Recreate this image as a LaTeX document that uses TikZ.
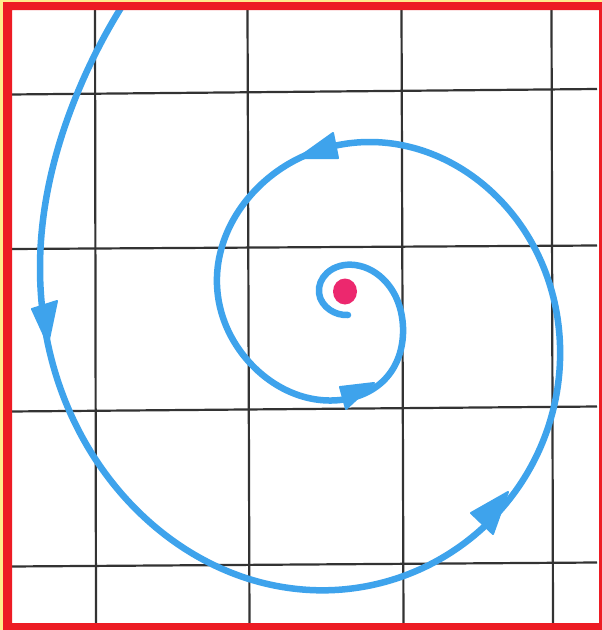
\documentclass[tikz,border=0pt]{standalone}
\usetikzlibrary{calc,shapes.geometric,hobby}
\definecolor{spiralblue}{RGB}{62,163,236}
\definecolor{dotred}{RGB}{236,40,110}
\definecolor{framered}{RGB}{237,28,36}
\definecolor{edgeyellow}{RGB}{255,236,140}
\tikzset{
  gridline/.style={draw=black!80, line width=2.2pt},
  spiralline/.style={draw=spiralblue, line width=6.5pt, line cap=round, line join=round},
  arrowhead/.style={fill=spiralblue, draw=spiralblue, line width=2pt, line join=round}
}
\begin{document}
\begin{tikzpicture}[x=1pt,y=-1pt]
\useasboundingbox (0,0) rectangle (602,630);
\fill[white] (0,0) rectangle (602,630);
% grid
\draw[gridline] (95,8) -- (96,625);
\draw[gridline] (247.5,8) -- (249.5,625);
\draw[gridline] (401.5,8) -- (403.5,625);
\draw[gridline] (551.5,8) -- (553,625);
\draw[gridline] (10,94.5) -- (597,89);
\draw[gridline] (10,249) -- (597,245.5);
\draw[gridline] (10,411.5) -- (597,406.5);
\draw[gridline] (10,566.5) -- (597,562.5);
% spiral
\draw[spiralline, use Hobby shortcut]
 (124,3) .. (77,94) .. (40,268) .. (100,466) .. (310,590) .. (487,524)
 .. (560,345) .. (493,193) .. (370,142) .. (250,196) .. (217,285)
 .. (250,363) .. (340,400) .. (387,377) .. (403,327) .. (386,282)
 .. (355,265) .. (327,273) .. (319,293) .. (330,310) .. (348,315);
% arrowheads
\filldraw[arrowhead] (32,309) -- (57,301) -- (48,344) -- cycle;
\filldraw[arrowhead] (471,513) -- (493,534) -- (508,492) -- cycle;
\filldraw[arrowhead] (333,133) -- (338,158) -- (298,158) -- cycle;
\filldraw[arrowhead] (340,387) -- (346,409) -- (374,383) -- cycle;
% centre dot
\node[fill=dotred, ellipse, inner sep=0pt, minimum width=24pt, minimum height=26pt] (centre) at (345,291.5) {};
% frame
\fill[framered, even odd rule] (3,2) rectangle (602,630) (12,10) rectangle (599,623);
\fill[edgeyellow] (0,0) rectangle (3,630);
\fill[edgeyellow] (0,0) rectangle (602,2);
\end{tikzpicture}
\end{document}
